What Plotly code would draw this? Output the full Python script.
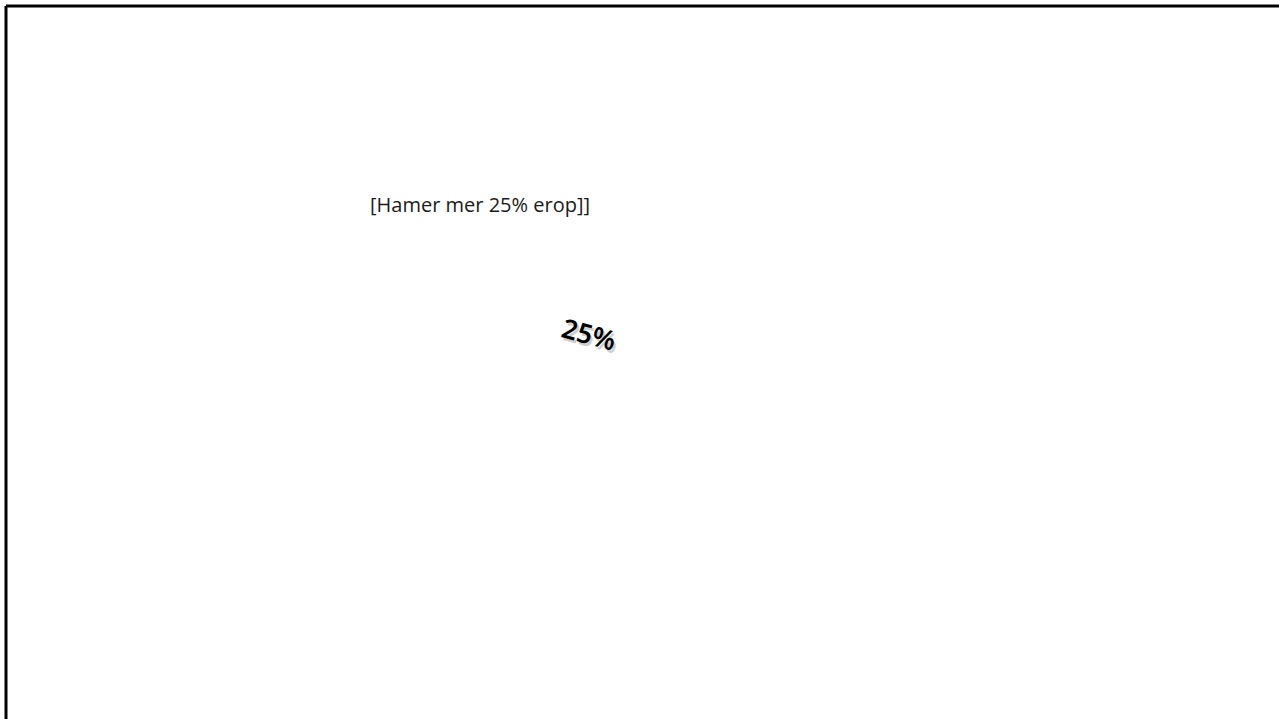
import plotly.graph_objects as go

# Data
labels = ["[Hamer mer 25% erop]]"]
percent_values = [25]
percent_text = [f"{v}%" for v in percent_values]

W, H = 1279, 719

fig = go.Figure()

# invisible trace to set up axes
fig.add_trace(go.Scatter(x=[0, W], y=[0, H], mode="markers",
                         marker=dict(opacity=0), hoverinfo="skip", showlegend=False))

# Label text
fig.add_annotation(x=480, y=204, text=labels[0], showarrow=False,
                   font=dict(family="Open Sans", size=20, color="#1a1a1a"),
                   xanchor="center", yanchor="middle")

# Shadow of rotated percentage
fig.add_annotation(x=591, y=336, text=percent_text[0], showarrow=False, textangle=15,
                   font=dict(family="Noto Sans", size=27, color="rgba(0,0,0,0.2)", weight=600),
                   xanchor="center", yanchor="middle")
fig.add_annotation(x=589, y=333, text=percent_text[0], showarrow=False, textangle=15,
                   font=dict(family="Noto Sans", size=27, color="#000000", weight=600),
                   xanchor="center", yanchor="middle")

# Border (top and left lines)
fig.add_shape(type="line", x0=6, y0=6, x1=W + 20, y1=6, line=dict(color="black", width=3))
fig.add_shape(type="line", x0=6, y0=6, x1=6, y1=H + 20, line=dict(color="black", width=3))

fig.update_xaxes(range=[0, W], visible=False, fixedrange=True)
fig.update_yaxes(range=[H, 0], visible=False, fixedrange=True)
fig.update_layout(width=W, height=H, margin=dict(l=0, r=0, t=0, b=0),
                  plot_bgcolor="white", paper_bgcolor="white", showlegend=False)

fig.write_html("out.html", config={"displayModeBar": False},
               post_script="document.body.style.margin='0';document.body.style.overflow='hidden';")
